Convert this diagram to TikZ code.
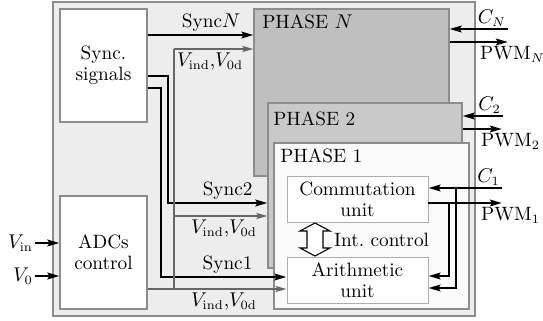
\documentclass[tikz,border=0pt]{standalone}
\usepackage{amsmath}
\usepackage{xcolor}
\usepackage{tikz}
\usetikzlibrary{arrows,arrows.meta,fit,positioning}
\definecolor{bgfill}{gray}{0.93}
\definecolor{phNfill}{gray}{0.75}
\definecolor{phTwofill}{gray}{0.79}
\definecolor{edgegray}{gray}{0.55}
\definecolor{unitedge}{gray}{0.68}
\definecolor{wiregray}{gray}{0.4}
\tikzstyle{outerbox} = [draw=edgegray, line width=0.8pt, fill=bgfill, inner sep=0pt]
\tikzstyle{block} = [draw=edgegray, line width=0.6pt, fill=white, inner sep=0pt, align=center,
    minimum width=87*0.55pt, minimum height=113*0.55pt]
\tikzstyle{phase} = [draw=edgegray, line width=0.6pt, inner sep=0pt]
\tikzstyle{unit} = [draw=unitedge, line width=0.5pt, fill=white, inner sep=0pt, align=center,
    minimum width=141*0.55pt, minimum height=46*0.55pt]
\tikzstyle{sig} = [line width=1.6pt, ->, >={Stealth[length=6.5pt,width=3.6pt,inset=1pt]}]
\tikzstyle{meas} = [line width=1.1pt, wiregray, ->, >={Stealth[length=6pt,width=3.2pt,inset=1pt]}]
\tikzstyle{tag} = [inner sep=1pt]

\begin{document}
\begin{tikzpicture}[x=0.55pt, y=-0.55pt, font=\fontsize{10.6}{11.6}\selectfont]
    \useasboundingbox (0,0) rectangle (543,321);
    \node (outer) [outerbox, fit={(53,2) (475,316)}] {};
    \node (sync) [block] at (103.5,65.5) {Sync.\\signals};
    \node (adc) [block] at (103.5,252.5) {ADCs\\control};
    \node (phN) [phase, fill=phNfill, fit={(254,9) (449,176)}] {};
    \node (ph2) [phase, fill=phTwofill, fit={(268,103) (462,268)}] {};
    \node (ph1) [phase, fill=white!98!black, fit={(274,143) (469,309)}] {};
    \node (lblN) [anchor=north west, inner sep=0pt] at (262,14) {PHASE $N$};
    \node (lbl2) [anchor=north west, inner sep=0pt] at (273,111) {PHASE 2};
    \node (lbl1) [anchor=north west, inner sep=0pt] at (280,148) {PHASE 1};
    \node (comm) [unit] at (357.5,199) {Commutation\\unit};
    \node (arith) [unit] at (357.5,280) {Arithmetic\\unit};

    % internal control
    \draw [line width=0.6pt, fill=white] (315,223) -- (330,231) -- (323,231) -- (323,248) -- (330,248)
        -- (315,256) -- (300,248) -- (307,248) -- (307,231) -- (300,231) -- cycle;
    \node (intc) [anchor=west, tag] at (332,240) {Int.\ control};

    % inputs
    \node (vin) [anchor=east, tag] at (35,243) {$V_{\mathrm{in}}$};
    \node (vo) [anchor=east, tag] at (35,276) {$V_0$};
    \draw [sig] (vin.east) -- (adc.west |- vin.east);
    \draw [sig] (vo.east) -- (adc.west |- vo.east);

    % sync lines
    \draw [sig] (sync.east |- 0,35) -- node [above, pos=0.6, tag] {Sync$N$} (phN.west |- 0,35);
    \draw [sig] (sync.east |- 0,76) -- (168,76) -- (168,203) -- node [above, pos=0.6, tag] {Sync2} (ph2.west |- 0,203);
    \draw [sig] (sync.east |- 0,88) -- (161,88) -- (161,277) -- node [above, pos=0.53, tag] {Sync1} (arith.west |- 0,277);

    % measurements
    \coordinate (vtop) at (174,49);
    \coordinate (vbot) at (174,289);
    \draw [meas] (adc.east |- vbot) -- (arith.west |- vbot);
    \draw [meas, -] (vbot) -- (vtop);
    \draw [meas] (vtop) -- (phN.west |- vtop);
    \draw [meas] (174,216) -- (ph2.west |- 0,216);
    \node (measN) [anchor=north west, tag] at (175,51) {$V_{\mathrm{ind}}$,$V_{\mathrm{0d}}$};
    \node (meas2) [anchor=north, tag] at (224,218) {$V_{\mathrm{ind}}$,$V_{\mathrm{0d}}$};
    \node (meas1) [anchor=north, tag] at (224,291) {$V_{\mathrm{ind}}$,$V_{\mathrm{0d}}$};

    % phase N outputs
    \coordinate (cN) at (508,29);
    \coordinate (pwmN) at (508,42);
    \draw [sig] (cN) -- (phN.east |- cN);
    \draw [sig] (phN.east |- pwmN) -- (pwmN);
    \node (lcN) [anchor=south east, tag] at (cN) {$C_N$};
    \node (lpN) [anchor=north west, tag] at (478,44) {PWM$_N$};

    % phase 2 outputs
    \coordinate (c2) at (503,116);
    \coordinate (pwm2) at (502,129);
    \draw [sig] (c2) -- (ph2.east |- c2);
    \draw [sig] (ph2.east |- pwm2) -- (pwm2);
    \node (lc2) [anchor=south east, tag] at (c2) {$C_2$};
    \node (lp2) [anchor=north west, tag] at (479,131) {PWM$_2$};

    % phase 1 outputs
    \coordinate (c1) at (502,188);
    \coordinate (pwm1) at (502,203);
    \draw [sig] (c1) -- (comm.east |- c1);
    \draw [sig] (comm.east |- pwm1) -- (pwm1);
    \draw [sig] (456,188) -- (456,288) -- (arith.east |- 0,288);
    \draw [sig] (449,203) -- (449,276) -- (arith.east |- 0,276);
    \node (lc1) [anchor=south east, tag] at (c1) {$C_1$};
    \node (lp1) [anchor=north west, tag] at (479,205) {PWM$_1$};
\end{tikzpicture}
\end{document}
